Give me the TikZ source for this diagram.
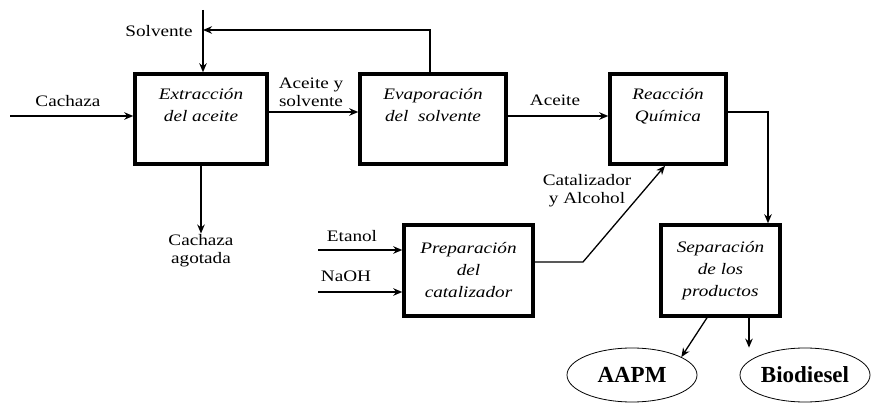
\documentclass[tikz,border=0pt]{standalone}
\usepackage{fontspec}
\setmainfont{Liberation Serif}[FakeStretch=1.2]
\newfontfamily\ovalfont{Liberation Serif}
\usepackage{tikz}
\usetikzlibrary{shapes.geometric, arrows.meta}
\tikzstyle{arrow} = [line width=1.3pt,-{Stealth[length=9pt,width=7.5pt]}]
\tikzstyle{lbl} = [font=\fontsize{16}{18}\selectfont, align=center, inner sep=1pt]

\begin{document}
\begin{tikzpicture}[x=1pt, y=-1pt,
    proc/.style={rectangle, draw, line width=3.5pt, align=center, inner sep=0pt,
        font=\fontsize{16}{22}\selectfont\itshape},
    oval/.style={ellipse, draw, line width=0.8pt, minimum width=130pt, minimum height=54pt,
        inner sep=0pt, font=\ovalfont\bfseries\fontsize{23}{25}\selectfont}]
\useasboundingbox (0,0) rectangle (871,404);

% etapas del proceso
\node[proc, minimum width=132pt, minimum height=90pt] (extr) at (201,119) {Extracción\\del aceite\\\strut};
\node[proc, minimum width=146pt, minimum height=90pt] (evap) at (433,119) {Evaporación\\del~ solvente\\\strut};
\node[proc, minimum width=116pt, minimum height=90pt] (reac) at (668,119) {Reacción\\Química\\\strut};
\node[proc, minimum width=129pt, minimum height=91pt] (prep) at (468.5,270.5) {Preparación\\del\\catalizador};
\node[proc, minimum width=119pt, minimum height=91pt] (sep) at (720.5,270.5) {Separación\\de los\\productos};

\node[oval] (aapm) at (632,375) {AAPM};
\node[oval] (bio) at (805,375) {Biodiesel};

% corrientes
\node[lbl] (cachaza) at (68,101) {Cachaza};
\node[lbl] (solv) at (159,31) {Solvente};
\node[lbl] (aceitesolv) at (311,92) {Aceite y\\solvente};
\node[lbl] (aceite) at (555,100) {Aceite};
\node[lbl] (agotada) at (201,251) {Cachaza\\agotada};
\node[lbl] (catal) at (587,191) {Catalizador\\y Alcohol};
\node[lbl] (etanol) at (352,236) {Etanol};
\node[lbl] (naoh) at (346,276) {NaOH};

\coordinate (cin) at (10,116);
\coordinate (sin) at (203,10);
\coordinate (sj) at (203,30);
\coordinate (bend) at (583,262);
\coordinate (etin) at (318,250);
\coordinate (nain) at (318,292);

\draw[arrow] (cin) -- (cin -| extr.west);
\draw[arrow] (sin) -- (sin |- extr.north);
\draw[arrow] ([xshift=-3pt]evap.north) |- (sj);
\draw[arrow] ([yshift=7pt]extr.east) -- ([yshift=7pt]evap.west);
\draw[arrow] ([yshift=3pt]evap.east) -- ([yshift=3pt]reac.west);
\draw[arrow] ([yshift=7pt]reac.east) -| ([xshift=47.5pt]sep.north);
\draw[arrow] ([yshift=8.5pt]prep.east) -- (bend) -- ([xshift=-3pt]reac.south);
\draw[arrow] (etin) -- (etin -| prep.west);
\draw[arrow] (nain) -- (nain -| prep.west);
\draw[arrow] (extr.south) -- (agotada.north);
\draw[arrow] ([xshift=-13.5pt]sep.south) -- (aapm.20);
\draw[arrow] ([xshift=28.5pt]sep.south) -- ([xshift=28.5pt]sep.south |- bio.north);
\end{tikzpicture}
\end{document}
